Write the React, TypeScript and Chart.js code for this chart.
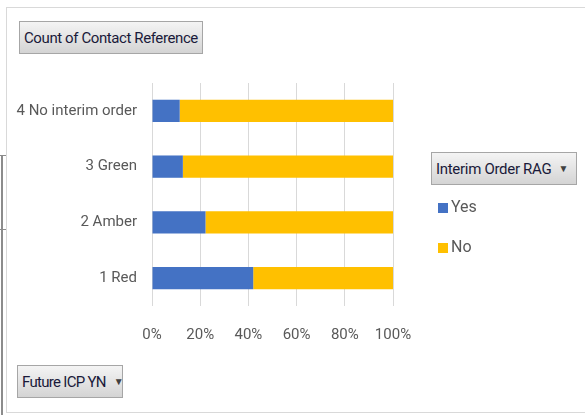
import React, { useEffect, useRef } from "react";
import { Chart, registerables } from "chart.js";

Chart.register(...registerables);

const categories = ["4 No interim order", "3 Green", "2 Amber", "1 Red"];
const yesShare = [11.5, 12.8, 22.2, 42.0];
const noShare = [88.5, 87.2, 77.8, 58.0];
const seriesNames = ["Yes", "No"];
const xTicks = [0, 20, 40, 60, 80, 100];

const FONT = "'Roboto', 'Liberation Sans', sans-serif";
const BLUE = "#4472C4";
const GOLD = "#FFC000";
const TEXT = "#595959";

const btnStyle: React.CSSProperties = {
  position: "absolute",
  boxSizing: "border-box",
  background: "linear-gradient(#f4f4f4, #d4d4d4)",
  border: "1px solid #a6a6a6",
  fontFamily: FONT,
  fontSize: 15,
  color: "#1a1a3a",
  display: "flex",
  alignItems: "center",
  paddingLeft: 4,
  whiteSpace: "nowrap",
  overflow: "hidden",
};

export default function App() {
  const ref = useRef<HTMLCanvasElement | null>(null);

  useEffect(() => {
    document.body.style.margin = "0";
    document.body.style.background = "#ffffff";
    const ctx = ref.current!;
    const chart = new Chart(ctx, {
      type: "bar",
      data: {
        labels: categories,
        datasets: [
          { label: seriesNames[0], data: yesShare, backgroundColor: BLUE, borderWidth: 0, barPercentage: 0.8, categoryPercentage: 0.5 },
          { label: seriesNames[1], data: noShare, backgroundColor: GOLD, borderWidth: 0, barPercentage: 0.8, categoryPercentage: 0.5 },
        ],
      },
      options: {
        indexAxis: "y",
        animation: false,
        responsive: false,
        maintainAspectRatio: false,
        layout: { padding: { left: 0, top: 83, right: 192, bottom: 59 } },
        plugins: { legend: { display: false }, tooltip: { enabled: false } },
        scales: {
          x: {
            stacked: true,
            min: 0,
            max: 100,
            afterBuildTicks: (scale: any) => {
              scale.ticks = xTicks.map((v) => ({ value: v }));
            },
            afterFit: (scale: any) => {
              scale.height = 50;
            },
            grid: { color: "#d9d9d9", lineWidth: 1, drawTicks: false },
            border: { display: false },
            ticks: {
              padding: 20,
              color: TEXT,
              font: { family: FONT, size: 15 },
              callback: (v: any) => v + "%",
            },
          },
          y: {
            stacked: true,
            afterFit: (scale: any) => {
              scale.width = 152;
            },
            grid: { display: false, drawTicks: false },
            border: { display: false },
            ticks: {
              padding: 15,
              color: TEXT,
              font: { family: FONT, size: 15 },
            },
          },
        },
      },
    });
    return () => chart.destroy();
  }, []);

  return (
    <div style={{ position: "relative", width: 585, height: 415, background: "#fff", overflow: "hidden" }}>
      {/* sheet cell borders at left */}
      <div style={{ position: "absolute", left: 1, top: 155, width: 2, height: 260, background: "#8c8c8c" }} />
      <div style={{ position: "absolute", left: 0, top: 155, width: 10, height: 1, background: "#8c8c8c" }} />
      <div style={{ position: "absolute", left: 0, top: 229, width: 10, height: 1, background: "#8c8c8c" }} />
      {/* chart frame */}
      <div style={{ position: "absolute", left: 6, top: 7, width: 600, height: 406, boxSizing: "border-box", border: "1px solid #d9d9d9", background: "#fff" }} />
      <canvas ref={ref} width={585} height={415} style={{ position: "absolute", left: 0, top: 0 }} />
      <div style={{ ...btnStyle, left: 19, top: 21, width: 184, height: 33, letterSpacing: -0.4 }}>Count of Contact Reference</div>
      <div style={{ ...btnStyle, left: 431, top: 152, width: 146, height: 33, letterSpacing: -0.3 }}>
        Interim Order RAG<span style={{ fontSize: 10, marginLeft: 7, color: "#404040" }}>▼</span>
      </div>
      <div style={{ ...btnStyle, left: 17, top: 365, width: 106, height: 33, letterSpacing: -0.7 }}>
        Future ICP YN<span style={{ fontSize: 10, marginLeft: 8, color: "#404040" }}>▼</span>
      </div>
      {/* legend */}
      <div style={{ position: "absolute", left: 438, top: 203, width: 10, height: 10, background: BLUE }} />
      <div style={{ position: "absolute", left: 451, top: 197, fontFamily: FONT, fontSize: 16, color: TEXT, lineHeight: "20px" }}>{seriesNames[0]}</div>
      <div style={{ position: "absolute", left: 438, top: 243, width: 10, height: 10, background: GOLD }} />
      <div style={{ position: "absolute", left: 451, top: 237, fontFamily: FONT, fontSize: 16, color: TEXT, lineHeight: "20px" }}>{seriesNames[1]}</div>
    </div>
  );
}
